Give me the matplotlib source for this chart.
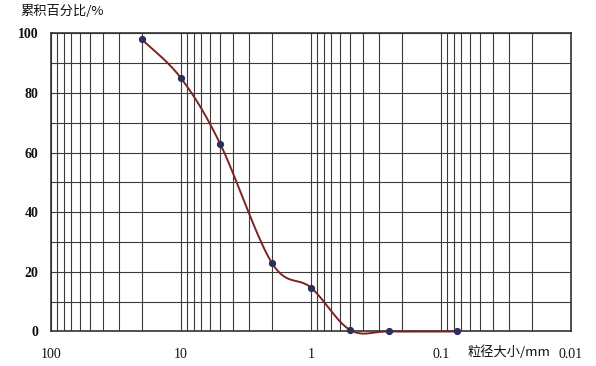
import numpy as np
import matplotlib
matplotlib.use('Agg')
import matplotlib.pyplot as plt
from matplotlib.ticker import FixedLocator, NullFormatter

# particle size (mm) and cumulative percentage passing
grain_size = [20, 10, 5, 2, 1, 0.5, 0.25, 0.075]
cum_percent = [98, 85, 63, 23, 14.7, 0.5, 0, 0]

x_ticks = [100, 10, 1, 0.1, 0.01]
x_tick_labels = ['100', '10', '1', '0.1', '0.01']
y_ticks = [0, 20, 40, 60, 80, 100]

serif = 'Liberation Serif'
cjk = ['Noto Sans CJK SC', 'DejaVu Sans']


def smooth_curve(xs, ys, n=40):
    """Excel-style smoothed line (Catmull-Rom / Bezier) in screen-like units."""
    u = -np.log10(xs) * 130.0
    v = np.asarray(ys, dtype=float) * 2.98
    pts = np.column_stack([u, v])
    out = []
    for i in range(len(pts) - 1):
        p0 = pts[max(i - 1, 0)]
        p1 = pts[i]
        p2 = pts[i + 1]
        p3 = pts[min(i + 2, len(pts) - 1)]
        c1 = p1 + (p2 - p0) / 6.0
        c2 = p2 - (p3 - p1) / 6.0
        t = np.linspace(0, 1, n)[:, None]
        seg = ((1 - t) ** 3) * p1 + 3 * ((1 - t) ** 2) * t * c1 + 3 * (1 - t) * t ** 2 * c2 + t ** 3 * p2
        out.append(seg if i == 0 else seg[1:])
    out = np.vstack(out)
    return 10 ** (-out[:, 0] / 130.0), out[:, 1] / 2.98


fig = plt.figure(figsize=(5.96, 3.66), dpi=100)
ax = fig.add_axes([0.0856, 0.0943, 0.8725, 0.8142])

ax.set_xscale('log')
ax.set_xlim(100, 0.01)
ax.set_ylim(0, 100)

# grid: every minor decade line and every 10 %
minor = [m * 10.0 ** e for e in range(-2, 2) for m in range(2, 10)]
ax.xaxis.set_major_locator(FixedLocator(x_ticks))
ax.xaxis.set_minor_locator(FixedLocator(minor))
ax.xaxis.set_minor_formatter(NullFormatter())
ax.set_xticks(x_ticks)
ax.set_xticklabels(x_tick_labels)
ax.set_yticks(y_ticks)
ax.set_yticks(range(0, 101, 10), minor=True)
ax.grid(which='both', color='#3a3a3a', linewidth=0.8)
ax.set_axisbelow(True)

ax.tick_params(which='both', length=0)
ax.tick_params(axis='y', pad=9)
ax.tick_params(axis='x', pad=12)
for lab in ax.get_xticklabels() + ax.get_yticklabels():
    lab.set_fontfamily(serif)
    lab.set_fontsize(10)
    lab.set_color('#111111')
for lab in ax.get_yticklabels():
    lab.set_fontweight('bold')

for sp in ax.spines.values():
    sp.set_color('#333333')
    sp.set_linewidth(1.2)

cx, cy = smooth_curve(grain_size, cum_percent)
ax.plot(cx, cy, color='#7b2424', linewidth=1.4, zorder=3, clip_on=False)
ax.plot(grain_size, cum_percent, 'o', color='#2c2f5c', markersize=4.2, zorder=4, clip_on=False)

fig.text(0.034, 0.968, '累积百分比/%', family=cjk, fontsize=9.5, va='center', ha='left',
         color='#111111', fontweight='medium')
ax.text(0.03, -0.069, '粒径大小/mm', family=cjk, fontsize=9.5, va='center', ha='center',
        transform=ax.get_xaxis_transform(), color='#111111')

fig.savefig('out.png', dpi=100)
